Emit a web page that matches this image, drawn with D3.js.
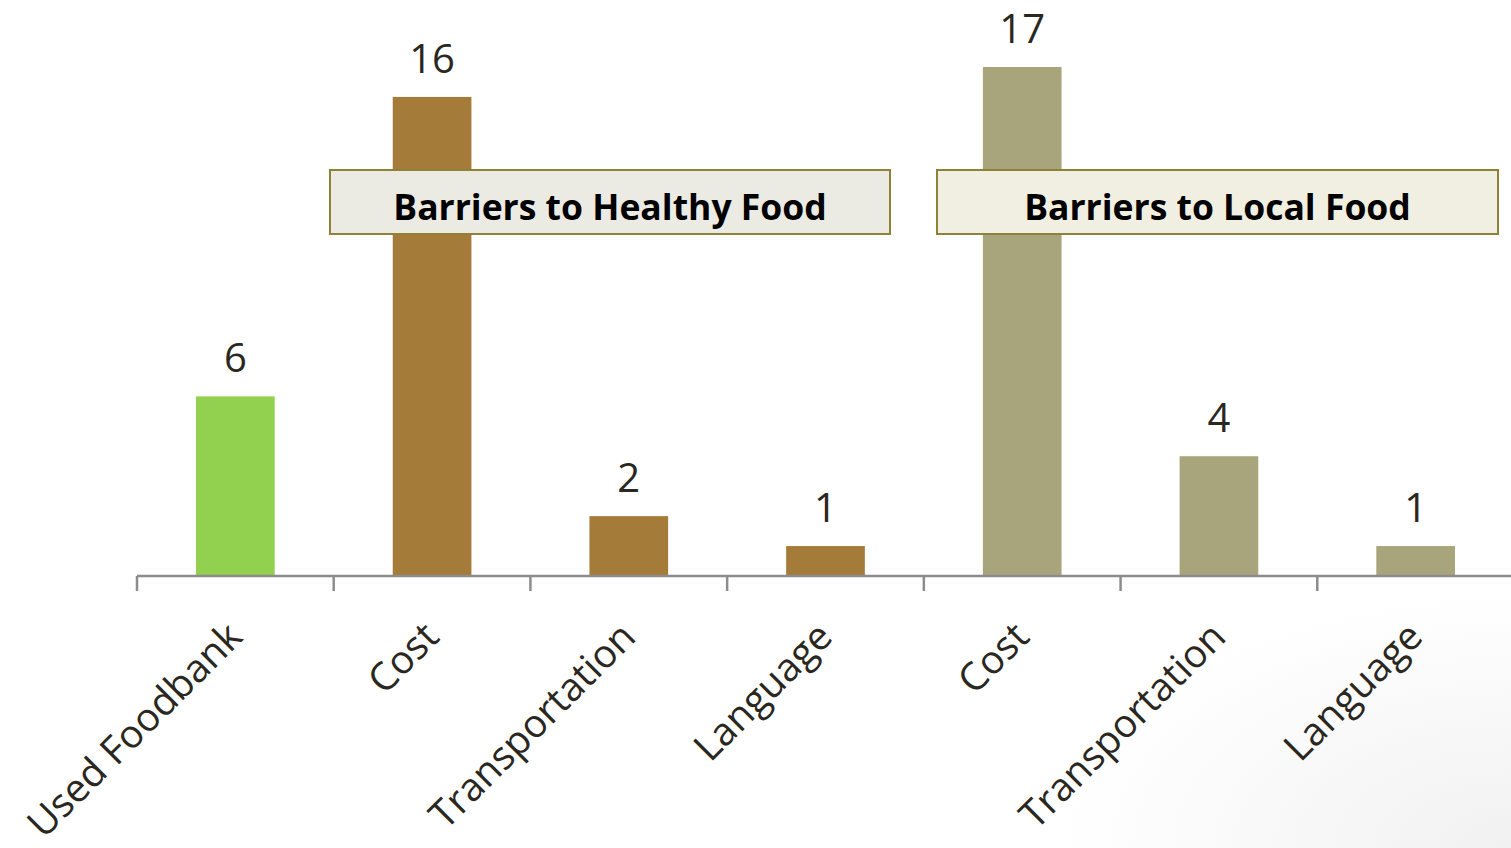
<!DOCTYPE html>
<html>
<head>
<meta charset="utf-8">
<script src="https://cdn.jsdelivr.net/npm/d3@7"></script>
<style>
  html, body { margin: 0; padding: 0; background: #ffffff; }
  svg { display: block; }
</style>
</head>
<body>
<svg id="chart" width="1511" height="848"></svg>
<script>
// ---- data ----
const categories = ["Used Foodbank", "Cost", "Transportation", "Language", "Cost", "Transportation", "Language"];
const values = [6, 16, 2, 1, 17, 4, 1];
const groups = ["foodbank", "healthy", "healthy", "healthy", "local", "local", "local"];
const groupTitles = ["Barriers to Healthy Food", "Barriers to Local Food"];

const colors = { foodbank: "#92d050", healthy: "#a57b3a", local: "#a8a47c" };

const W = 1511, H = 848;
const svg = d3.select("#chart");

// background shading (slide-like)
const defs = svg.append("defs");
const rg = defs.append("radialGradient").attr("id", "bg")
  .attr("cx", 1).attr("cy", 1).attr("r", 0.3).attr("gradientUnits", "objectBoundingBox");
rg.append("stop").attr("offset", 0).attr("stop-color", "#f1f1f1");
rg.append("stop").attr("offset", 1).attr("stop-color", "#ffffff");
svg.append("rect").attr("width", W).attr("height", H).attr("fill", "#ffffff");
svg.append("rect").attr("width", W).attr("height", H).attr("fill", "url(#bg)");

const idx = d3.range(categories.length);
const axisY = 576;
const x = d3.scaleBand().domain(idx).range([137, 1514]).paddingInner(0.6).paddingOuter(0.3);
const xt = d3.scaleBand().domain(idx).range([137, 1514]).padding(0);
const y = d3.scaleLinear().domain([0, 17]).range([axisY, 67]);

const font = "'Open Sans', 'Noto Sans', sans-serif";
const textColor = "#2a2721";

// bars
svg.append("g").selectAll("rect").data(idx).join("rect")
  .attr("x", i => x(i))
  .attr("y", i => y(values[i]))
  .attr("width", x.bandwidth())
  .attr("height", i => y(0) - y(values[i]))
  .attr("fill", i => colors[groups[i]]);

// axis line and ticks
const axisG = svg.append("g").attr("stroke", "#8c8c8c").attr("stroke-width", 2.5);
axisG.append("line").attr("x1", 137).attr("x2", W).attr("y1", axisY).attr("y2", axisY);
axisG.selectAll("line.tick").data(idx).join("line").attr("class", "tick")
  .attr("x1", i => xt(i)).attr("x2", i => xt(i))
  .attr("y1", axisY).attr("y2", axisY + 15);

// value labels
svg.append("g").selectAll("text").data(idx).join("text")
  .attr("x", i => x(i) + x.bandwidth() / 2)
  .attr("y", i => y(values[i]) - 24)
  .attr("text-anchor", "middle")
  .attr("font-family", font)
  .attr("font-size", 40)
  .attr("fill", textColor)
  .text(i => values[i]);

// category labels (rotated)
svg.append("g").selectAll("text").data(idx).join("text")
  .attr("transform", i => `translate(${x(i) + x.bandwidth() / 2 + 9},${639}) rotate(-45)`)
  .attr("text-anchor", "end")
  .attr("font-family", font)
  .attr("font-size", 39)
  .attr("fill", textColor)
  .text(i => categories[i]);

// group title boxes
const boxes = [
  { title: groupTitles[0], x0: 330, x1: 890, fill: "#ebeae3" },
  { title: groupTitles[1], x0: 937, x1: 1498, fill: "#f1efe1" }
];
const bg = svg.append("g").selectAll("g").data(boxes).join("g");
bg.append("rect")
  .attr("x", d => d.x0).attr("y", 170)
  .attr("width", d => d.x1 - d.x0).attr("height", 64)
  .attr("fill", d => d.fill)
  .attr("stroke", "#8d8236").attr("stroke-width", 2);
bg.append("text")
  .attr("x", d => (d.x0 + d.x1) / 2).attr("y", 220)
  .attr("text-anchor", "middle")
  .attr("font-family", font)
  .attr("font-weight", 700)
  .attr("font-size", 35.5)
  .attr("fill", "#000000")
  .text(d => d.title);
</script>
</body>
</html>
